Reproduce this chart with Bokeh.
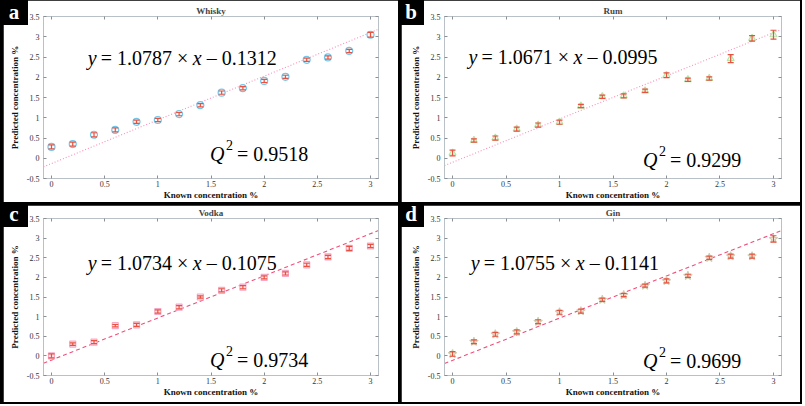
from bokeh.plotting import figure
from bokeh.models import (ColumnDataSource, Whisker, TeeHead, Label, LinearAxis,
                          FixedTicker, Range1d, Div)
from bokeh.layouts import row, column
from bokeh.embed import file_html
from bokeh.resources import INLINE

# ---------------- data ----------------
known = [0.0, 0.2, 0.4, 0.6, 0.8, 1.0, 1.2, 1.4, 1.6, 1.8, 2.0, 2.2, 2.4, 2.6, 2.8, 3.0]

whisky_pred = [0.28, 0.35, 0.58, 0.70, 0.90, 0.945, 1.09, 1.31, 1.62, 1.73, 1.91, 2.01, 2.43, 2.49, 2.65, 3.05]
whisky_err = [0.05, 0.05, 0.05, 0.05, 0.04, 0.04, 0.04, 0.04, 0.04, 0.04, 0.04, 0.04, 0.04, 0.04, 0.04, 0.06]

rum_pred = [0.13, 0.44, 0.50, 0.72, 0.82, 0.89, 1.29, 1.52, 1.54, 1.665, 2.05, 1.94, 1.97, 2.46, 2.96, 3.05]
rum_err = [0.07, 0.04, 0.05, 0.05, 0.05, 0.05, 0.04, 0.04, 0.05, 0.04, 0.06, 0.04, 0.04, 0.10, 0.07, 0.11]

vodka_pred = [0.0, 0.30, 0.35, 0.77, 0.79, 1.13, 1.24, 1.50, 1.67, 1.75, 2.00, 2.10, 2.32, 2.52, 2.74, 2.80]
vodka_err = [0.05, 0.03, 0.04, 0.03, 0.04, 0.04, 0.04, 0.03, 0.04, 0.04, 0.04, 0.04, 0.04, 0.04, 0.05, 0.04]

gin_pred = [0.05, 0.36, 0.55, 0.61, 0.87, 1.11, 1.14, 1.43, 1.55, 1.79, 1.91, 2.04, 2.50, 2.54, 2.54, 2.98]
gin_err = [0.06, 0.05, 0.05, 0.05, 0.05, 0.05, 0.05, 0.04, 0.04, 0.04, 0.05, 0.04, 0.04, 0.05, 0.05, 0.08]

panel_letters = ["a", "b", "c", "d"]
panel_titles = ["Whisky", "Rum", "Vodka", "Gin"]
slopes = [1.0787, 1.0671, 1.0734, 1.0755]
intercepts = [-0.1312, -0.0995, -0.1075, -0.1141]
q2_values = [0.9518, 0.9299, 0.9734, 0.9699]

x_ticks = [0, 0.5, 1, 1.5, 2, 2.5, 3]
x_tick_labels = ["0", "0.5", "1", "1.5", "2", "2.5", "3"]
y_ticks = [-0.5, 0, 0.5, 1, 1.5, 2, 2.5, 3, 3.5]
y_tick_labels = ["-0.5", "0", "0.5", "1", "1.5", "2", "2.5", "3", "3.5"]

x_label = "Known concentration %"
y_label = "Predicted concentration %"

SERIF = "'Liberation Serif', 'Times New Roman', serif"
ERR_COLOR = "#e8503f"
AX_COLOR = "#b9c0c6"


def make_panel(i, pred, err, marker, msize, m_line, m_fill, fit_color, fit_dash,
               width, height, borders, margin, eq_pos, q_pos):
    x0, x1 = -0.075, 3.075
    p = figure(width=width, height=height, output_backend="svg", toolbar_location=None,
               x_range=Range1d(x0, x1), y_range=Range1d(-0.5, 3.5),
               min_border_left=borders[0], min_border_right=borders[1],
               min_border_top=borders[2], min_border_bottom=borders[3],
               x_axis_label=x_label, y_axis_label=y_label)
    p.margin = margin
    p.background_fill_color = "white"
    p.border_fill_color = "white"
    p.outline_line_color = AX_COLOR
    p.xgrid.visible = False
    p.ygrid.visible = False

    p.title.text = panel_titles[i]
    p.title.align = "center"
    p.title.text_font = SERIF
    p.title.text_font_size = "9px"
    p.title.text_font_style = "bold"
    p.title.standoff = 1
    p.title.offset = 0

    top_ax = LinearAxis()
    right_ax = LinearAxis()
    p.add_layout(top_ax, "above")
    p.add_layout(right_ax, "right")

    xt = FixedTicker(ticks=x_ticks)
    yt = FixedTicker(ticks=y_ticks)
    for ax in p.xaxis:
        ax.ticker = xt
        ax.major_label_overrides = dict(zip(x_ticks, x_tick_labels))
    for ax in p.yaxis:
        ax.ticker = yt
        ax.major_label_overrides = dict(zip(y_ticks, y_tick_labels))
    for ax in p.xaxis + p.yaxis:
        ax.axis_line_color = AX_COLOR
        ax.major_tick_line_color = "#8a9096"
        ax.major_tick_in = 3
        ax.major_tick_out = 0
        ax.minor_tick_line_color = None
        ax.major_label_text_font = SERIF
        ax.major_label_text_font_size = "8px"
        ax.major_label_text_color = "#333333"
        ax.axis_label_text_font = SERIF
        ax.axis_label_text_font_size = "9px"
        ax.axis_label_text_font_style = "bold"
        ax.axis_label_text_color = "#111111"
    for ax in (top_ax, right_ax):
        ax.major_label_text_font_size = "1px"
        ax.major_label_text_color = None
        ax.major_label_standoff = 0
        ax.axis_label = None
    p.below[0].major_label_standoff = 2
    p.below[0].axis_label_standoff = 0
    p.left[0].major_label_standoff = 4
    p.left[0].axis_label_standoff = 4

    fx = [x0, x1]
    fy = [slopes[i] * v + intercepts[i] for v in fx]
    p.line(fx, fy, line_color=fit_color, line_width=1.1, line_dash=fit_dash)

    src = ColumnDataSource(dict(x=known, y=pred,
                                lo=[a - b for a, b in zip(pred, err)],
                                hi=[a + b for a, b in zip(pred, err)]))
    p.scatter("x", "y", source=src, marker=marker, size=msize,
              line_color=m_line, fill_color=m_fill, line_width=1.2)
    w = Whisker(base="x", lower="lo", upper="hi", source=src, level="overlay",
                line_color=ERR_COLOR, line_width=1.2,
                upper_head=TeeHead(size=6, line_color=ERR_COLOR, line_width=1.2),
                lower_head=TeeHead(size=6, line_color=ERR_COLOR, line_width=1.2))
    p.add_layout(w)

    ex, ey = eq_pos
    slope_txt = "= %.4f \u00d7" % slopes[i]
    icpt_txt = "\u2013 %.4f" % abs(intercepts[i])
    pieces = [("y", "italic", 0), (slope_txt, "normal", 13),
              ("x", "italic", 105), (icpt_txt, "normal", 119)]
    for t, st, off in pieces:
        p.add_layout(Label(x=ex, y=ey, x_offset=off, text=t, text_font=SERIF,
                           text_font_style=st, text_font_size="20px",
                           text_color="black", text_baseline="alphabetic"))
    qx, qy = q_pos
    p.add_layout(Label(x=qx, y=qy, text="Q", text_font=SERIF, text_font_style="italic",
                       text_font_size="20px", text_color="black", text_baseline="alphabetic"))
    p.add_layout(Label(x=qx, y=qy, x_offset=16, y_offset=9, text="2", text_font=SERIF,
                       text_font_size="14px", text_color="black", text_baseline="alphabetic"))
    p.add_layout(Label(x=qx, y=qy, x_offset=27, text="= %.4f" % q2_values[i],
                       text_font=SERIF, text_font_size="20px",
                       text_color="black", text_baseline="alphabetic"))
    return p


def letter_box(letter, left, top, w, h):
    css = (":host { position: absolute !important; left: %dpx !important; top: %dpx !important; "
           "width: %dpx !important; height: %dpx !important; z-index: 20; margin: 0 !important; "
           "background-color: black; }" % (left, top, w, h))
    html = ('<div style="width:%dpx;height:%dpx;line-height:%dpx;text-align:center;'
            'color:white;font-family:\'Liberation Serif\',serif;font-weight:bold;'
            'font-size:21px;margin:0;padding:0;">%s</div>' % (w, h, h, letter))
    return Div(text=html, width=w, height=h, margin=0, stylesheets=[css])


pa = make_panel(0, whisky_pred, whisky_err, "circle", 7, "#72c6ea", "#f2fafd", "#ff8cb6", "1 2",
                395, 202, (40, 20, 16, 23), (0, 0, 0, 3), (0.34, 2.47), (1.49, 0.11))
pb = make_panel(1, rum_pred, rum_err, "triangle", 7, "#b6e6a6", "#f0faec", "#ff8cb6", "1 2",
                399, 202, (43, 19, 16, 24), (0, 2, 0, 3), (0.15, 2.49), (1.78, -0.05))
pc = make_panel(2, vodka_pred, vodka_err, "square", 6, "#f7a9c4", "#fde6ee", "#f0507a", "4 3",
                395, 197, (40, 20, 11, 27), (0, 0, 0, 3), (0.34, 2.37), (1.49, -0.11))
pd = make_panel(3, gin_pred, gin_err, "star", 9, "#cfcdb0", "#f3f2e8", "#f0507a", "4 3",
                399, 197, (43, 19, 11, 27), (0, 2, 0, 3), (0.17, 2.37), (1.78, -0.13))

box_pos = [(0, 0, 28, 25), (398, 0, 26, 25), (0, 202, 28, 25), (398, 202, 26, 25)]
boxes = [letter_box(l, *pos) for l, pos in zip(panel_letters, box_pos)]

top = row(pa, pb)
bottom = row(pc, pd)
top.margin = (0, 0, 3, 0)
bottom.margin = (0, 0, 2, 0)
layout = column(top, bottom, *boxes)
layout.styles = {"background-color": "black", "position": "relative"}

open("out.html", "w").write(file_html(layout, INLINE))
